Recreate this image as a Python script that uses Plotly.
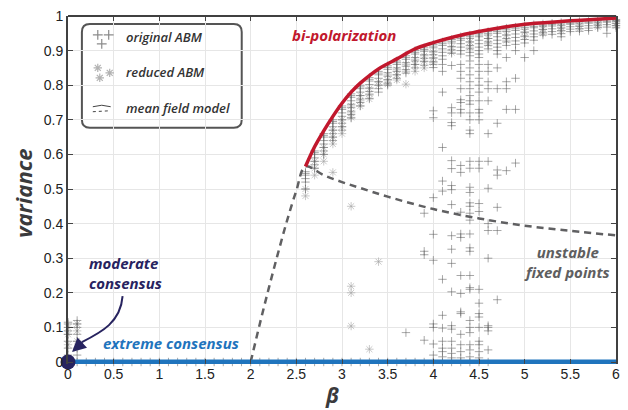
import plotly.graph_objects as go

# ---------------- data ----------------
mf_stable_beta = [2.6, 2.7, 2.8, 2.9, 3.0, 3.1, 3.2, 3.3, 3.4, 3.5, 3.6, 3.8, 4.0, 4.2, 4.4, 4.6, 4.8, 5.0, 5.25, 5.5, 5.75, 6.0]
mf_stable_var = [0.565, 0.622, 0.668, 0.71, 0.748, 0.78, 0.806, 0.828, 0.847, 0.862, 0.876, 0.905, 0.923, 0.938, 0.95, 0.96, 0.969, 0.976, 0.981, 0.986, 0.99, 0.994]

mf_unstable_beta = [2.0, 2.1, 2.2, 2.3, 2.4, 2.5, 2.6, 2.8, 3.0, 3.2, 3.5, 4.0, 4.5, 5.0, 5.5, 6.0]
mf_unstable_var = [0.0, 0.11, 0.215, 0.315, 0.41, 0.495, 0.565, 0.54, 0.52, 0.503, 0.478, 0.442, 0.415, 0.394, 0.379, 0.366]

consensus_beta = [0.0, 6.0]
consensus_var = [0.0, 0.0]

orig_col_beta = [0.0, 0.1, 2.6, 2.7, 2.8, 2.9, 3.0, 3.1, 3.2, 3.3, 3.4, 3.5, 3.6, 3.7, 3.8, 3.9,
                 4.0, 4.1, 4.2, 4.3, 4.4, 4.5, 4.6, 4.7, 4.8, 4.9, 5.0, 5.1, 5.2, 5.3, 5.4, 5.5,
                 5.6, 5.7, 5.8, 5.9, 6.0]
orig_col_var = [
    [0.0, 0.02, 0.04, 0.06, 0.08, 0.09, 0.1, 0.11, 0.115],
    [0.0, 0.02, 0.04, 0.06, 0.08, 0.1, 0.11, 0.12],
    [0.55, 0.545, 0.54, 0.53, 0.52, 0.5],
    [0.61, 0.605, 0.6, 0.59, 0.58, 0.57, 0.56],
    [0.66, 0.655, 0.65, 0.64, 0.63, 0.62, 0.61, 0.6],
    [0.7, 0.695, 0.69, 0.68, 0.67, 0.66, 0.65, 0.64],
    [0.74, 0.735, 0.73, 0.72, 0.71, 0.7, 0.69, 0.68, 0.67],
    [0.775, 0.77, 0.765, 0.755, 0.745, 0.735, 0.725, 0.715, 0.705],
    [0.8, 0.795, 0.79, 0.78, 0.77, 0.76, 0.75, 0.74],
    [0.822, 0.817, 0.812, 0.802, 0.792, 0.782, 0.772, 0.762],
    [0.84, 0.835, 0.83, 0.82, 0.81, 0.8, 0.79, 0.78],
    [0.856, 0.851, 0.846, 0.836, 0.826, 0.816, 0.806, 0.8],
    [0.87, 0.865, 0.86, 0.85, 0.84, 0.83, 0.82],
    [0.885, 0.88, 0.875, 0.865, 0.855, 0.845, 0.835, 0.085],
    [0.9, 0.895, 0.89, 0.88, 0.87, 0.86, 0.85],
    [0.908, 0.903, 0.898, 0.888, 0.878, 0.868, 0.858, 0.43, 0.32, 0.31, 0.063],
    [0.918, 0.913, 0.908, 0.898, 0.888, 0.878, 0.868, 0.86, 0.851, 0.726, 0.706, 0.475, 0.369, 0.294, 0.11, 0.1, 0.052, 0.02],
    [0.925, 0.92, 0.915, 0.905, 0.895, 0.885, 0.875, 0.86, 0.84, 0.78, 0.62, 0.523, 0.494, 0.239, 0.135, 0.098, 0.06, 0.04, 0.03, 0.015],
    [0.932, 0.927, 0.922, 0.912, 0.902, 0.892, 0.857, 0.735, 0.72, 0.692, 0.683, 0.582, 0.559, 0.51, 0.498, 0.455, 0.365, 0.326, 0.285, 0.203, 0.105, 0.095, 0.06, 0.04, 0.025, 0.012],
    [0.94, 0.935, 0.93, 0.92, 0.91, 0.9, 0.89, 0.86, 0.84, 0.82, 0.79, 0.758, 0.75, 0.73, 0.72, 0.568, 0.548, 0.433, 0.37, 0.36, 0.25, 0.198, 0.145, 0.14, 0.08, 0.05, 0.03, 0.012],
    [0.945, 0.94, 0.935, 0.925, 0.915, 0.905, 0.895, 0.885, 0.87, 0.85, 0.83, 0.81, 0.79, 0.77, 0.755, 0.745, 0.72, 0.7, 0.67, 0.66, 0.58, 0.56, 0.505, 0.49, 0.46, 0.45, 0.43, 0.41, 0.37, 0.33, 0.32, 0.25, 0.215, 0.21, 0.12, 0.1, 0.085, 0.05, 0.035, 0.015],
    [0.95, 0.945, 0.94, 0.93, 0.92, 0.91, 0.9, 0.89, 0.88, 0.86, 0.84, 0.82, 0.8, 0.78, 0.755, 0.73, 0.72, 0.7, 0.58, 0.56, 0.458, 0.435, 0.21, 0.17, 0.14, 0.13, 0.1, 0.06, 0.05, 0.03, 0.012],
    [0.955, 0.95, 0.945, 0.935, 0.925, 0.915, 0.905, 0.86, 0.84, 0.81, 0.79, 0.755, 0.66, 0.58, 0.502, 0.4, 0.38, 0.3, 0.105, 0.1, 0.09, 0.035],
    [0.96, 0.955, 0.95, 0.94, 0.93, 0.92, 0.91, 0.9, 0.89, 0.85, 0.79, 0.69, 0.555, 0.54, 0.447, 0.38, 0.18],
    [0.965, 0.96, 0.955, 0.945, 0.935, 0.925, 0.915, 0.88, 0.81, 0.79, 0.73, 0.553],
    [0.968, 0.963, 0.958, 0.948, 0.938, 0.928, 0.918, 0.9, 0.82, 0.73, 0.575],
    [0.972, 0.967, 0.962, 0.952, 0.942, 0.932, 0.922, 0.88],
    [0.975, 0.97, 0.966, 0.957, 0.948, 0.94, 0.93, 0.9],
    [0.977, 0.973, 0.969, 0.961, 0.953, 0.945],
    [0.979, 0.975, 0.971, 0.963, 0.955, 0.947],
    [0.981, 0.977, 0.973, 0.965, 0.957, 0.949, 0.94],
    [0.983, 0.979, 0.976, 0.969, 0.962, 0.955],
    [0.984, 0.98, 0.977, 0.97, 0.963, 0.956],
    [0.986, 0.982, 0.979, 0.972, 0.965, 0.958],
    [0.987, 0.983, 0.98, 0.973, 0.966],
    [0.989, 0.985, 0.982, 0.975, 0.968, 0.95],
    [0.99, 0.987, 0.984, 0.978, 0.972, 0.966],
]

orig_zero_beta = [0.2, 0.3, 0.4, 0.5, 0.6, 0.7, 0.8, 0.9, 1.0, 1.1, 1.2, 1.3, 1.4, 1.5, 1.6, 1.7, 1.8, 1.9,
                  2.0, 2.1, 2.2, 2.3, 2.4, 2.5, 2.6, 2.7, 2.8, 2.9, 3.0, 3.1, 3.2, 3.3, 3.4, 3.5, 3.6,
                  3.7, 3.8, 3.9, 4.0, 4.1, 4.2, 4.3, 4.4, 4.5, 4.6]
orig_zero_var = [0.0] * len(orig_zero_beta)

red_col_beta = [0.0, 0.1, 2.6, 2.7, 2.8, 2.9, 3.0, 3.1, 3.2, 3.3, 3.4, 3.5, 3.6, 3.7, 3.8, 3.9,
                4.0, 4.2, 4.4, 4.6, 4.8, 5.0, 5.2, 5.4, 5.6, 5.8, 6.0]
red_col_var = [
    [0.05, 0.08, 0.1],
    [0.06, 0.09, 0.11],
    [0.5, 0.48],
    [0.58, 0.56, 0.54],
    [0.62, 0.6, 0.58],
    [0.67, 0.65, 0.63, 0.548],
    [0.7, 0.68, 0.66],
    [0.74, 0.72, 0.707, 0.45, 0.219, 0.2, 0.104],
    [0.77, 0.755, 0.74],
    [0.79, 0.775, 0.76, 0.037],
    [0.81, 0.8, 0.29],
    [0.83, 0.815, 0.803],
    [0.845, 0.83, 0.815],
    [0.86, 0.84, 0.803],
    [0.875, 0.86, 0.84],
    [0.885, 0.87, 0.85],
    [0.895, 0.88, 0.865],
    [0.91, 0.895],
    [0.925, 0.91],
    [0.935, 0.92],
    [0.945, 0.93],
    [0.955, 0.94],
    [0.962, 0.95],
    [0.968, 0.958],
    [0.972, 0.963],
    [0.976, 0.968],
    [0.98, 0.972],
]

x_tick_vals = [0, 0.5, 1, 1.5, 2, 2.5, 3, 3.5, 4, 4.5, 5, 5.5, 6]
x_tick_text = ["0", "0.5", "1", "1.5", "2", "2.5", "3", "3.5", "4", "4.5", "5", "5.5", "6"]
y_tick_vals = [0, 0.1, 0.2, 0.3, 0.4, 0.5, 0.6, 0.7, 0.8, 0.9, 1]
y_tick_text = ["0", "0.1", "0.2", "0.3", "0.4", "0.5", "0.6", "0.7", "0.8", "0.9", "1"]

# ---------------- build ----------------
def flatten(betas, cols):
    xs, ys = [], []
    for b, col in zip(betas, cols):
        for v in col:
            xs.append(b)
            ys.append(v)
    return xs, ys

orig_x, orig_y = flatten(orig_col_beta, orig_col_var)
orig_x += orig_zero_beta
orig_y += orig_zero_var
red_x, red_y = flatten(red_col_beta, red_col_var)

ORIG_C = "rgba(95,95,95,0.55)"
RED_C = "rgba(165,165,165,0.6)"
NAVY = "#27235f"
BLUE = "#1f74bd"
CRIMSON = "#c1182d"
DGRAY = "#5e5e60"
FONT = "Open Sans"

fig = go.Figure()

fig.add_trace(go.Scatter(x=red_x, y=red_y, mode="markers", cliponaxis=False,
                         marker=dict(symbol="asterisk-open", size=7, color=RED_C,
                                     line=dict(width=1, color=RED_C)),
                         showlegend=False, hoverinfo="skip"))
fig.add_trace(go.Scatter(x=orig_x, y=orig_y, mode="markers", cliponaxis=False,
                         marker=dict(symbol="cross-thin-open", size=6, color=ORIG_C,
                                     line=dict(width=1, color=ORIG_C)),
                         showlegend=False, hoverinfo="skip"))
fig.add_trace(go.Scatter(x=mf_unstable_beta, y=mf_unstable_var, mode="lines", line_shape="spline",
                         line=dict(color="#606062", width=2.5, dash="7px,5px"),
                         showlegend=False, hoverinfo="skip"))
fig.add_trace(go.Scatter(x=mf_stable_beta, y=mf_stable_var, mode="lines", line_shape="spline",
                         line=dict(color=CRIMSON, width=3.5), showlegend=False, hoverinfo="skip"))
fig.add_trace(go.Scatter(x=consensus_beta, y=consensus_var, mode="lines",
                         line=dict(color=BLUE, width=5), showlegend=False, hoverinfo="skip"))
fig.add_trace(go.Scatter(x=[0], y=[0], mode="markers", cliponaxis=False,
                         marker=dict(size=15, color=NAVY), showlegend=False, hoverinfo="skip"))

# legend icons on pixel-unit overlay axes
fig.add_trace(go.Scatter(x=[98, 109, 102], y=[34, 34, 43], mode="markers", xaxis="x2", yaxis="y2",
                         marker=dict(symbol="cross-thin-open", size=7, color="rgba(110,110,110,0.8)",
                                     line=dict(width=1.2, color="rgba(110,110,110,0.8)")),
                         showlegend=False, hoverinfo="skip"))
fig.add_trace(go.Scatter(x=[98, 110, 100], y=[67, 72, 77], mode="markers", xaxis="x2", yaxis="y2",
                         marker=dict(symbol="asterisk-open", size=7, color="rgba(165,165,165,0.85)",
                                     line=dict(width=1.2, color="rgba(165,165,165,0.85)")),
                         showlegend=False, hoverinfo="skip"))

shapes = [
    dict(type="path", xref="x2", yref="y2",
         path="M 90,23 L 235,23 Q 243,23 243,31 L 243,119 Q 243,127 235,127 L 90,127 Q 82,127 82,119 L 82,31 Q 82,23 90,23 Z",
         line=dict(color="#555555", width=2), fillcolor="white", layer="below"),
    dict(type="path", xref="x2", yref="y2", path="M 93,106 Q 102,103 111,106",
         line=dict(color="#444444", width=1)),
    dict(type="line", xref="x2", yref="y2", x0=93, y0=111, x1=111, y1=110,
         line=dict(color="#444444", width=1, dash="dot")),
    dict(type="line", xref="paper", yref="paper", x0=0, x1=1, y0=1, y1=1,
         line=dict(color="#404040", width=2)),
    dict(type="path", xref="x2", yref="y2", path="M 123,296 C 121,322 102,332 82,342",
         line=dict(color=NAVY, width=2)),
]

LEG_FONT = dict(family=FONT, size=13, color="#333333", weight=600, style="italic")

annotations = [
    dict(x=72, y=352, ax=84, ay=341, xref="x2", yref="y2", axref="x2", ayref="y2",
         text="", showarrow=True, arrowhead=2, arrowsize=1.4, arrowwidth=2, arrowcolor=NAVY),
    dict(x=124, y=36, xref="x2", yref="y2", text="original ABM", showarrow=False,
         xanchor="left", yanchor="middle", font=LEG_FONT),
    dict(x=124, y=71.5, xref="x2", yref="y2", text="reduced ABM", showarrow=False,
         xanchor="left", yanchor="middle", font=LEG_FONT),
    dict(x=124, y=107, xref="x2", yref="y2", text="mean field model", showarrow=False,
         xanchor="left", yanchor="middle", font=LEG_FONT),
    dict(x=292, y=34, xref="x2", yref="y2", text="<b><i>bi-polarization</i></b>", showarrow=False,
         xanchor="left", yanchor="middle", font=dict(family=FONT, size=15, color=CRIMSON)),
    dict(x=101, y=343, xref="x2", yref="y2", text="<b><i>extreme consensus</i></b>", showarrow=False,
         xanchor="left", yanchor="middle", font=dict(family=FONT, size=15, color=BLUE)),
    dict(x=87, y=273, xref="x2", yref="y2", text="<b><i>moderate<br>consensus</i></b>", showarrow=False,
         xanchor="left", yanchor="middle", align="left", font=dict(family=FONT, size=15, color=NAVY)),
    dict(x=571, y=262, xref="x2", yref="y2", text="<b><i>unstable<br>fixed points</i></b>", showarrow=False,
         xanchor="center", yanchor="middle", align="center", font=dict(family=FONT, size=15, color=DGRAY)),
    dict(x=(23 - 68) / 552, y=(364 - 193) / 349, xref="paper", yref="paper",
         text="<b><i>variance</i></b>", showarrow=False, textangle=-90,
         xanchor="center", yanchor="middle", font=dict(family=FONT, size=22, color="#3a3a3c")),
    dict(x=(334 - 68) / 552, y=(364 - 395) / 349, xref="paper", yref="paper",
         text="<b><i>β</i></b>", showarrow=False,
         xanchor="center", yanchor="middle", font=dict(family=FONT, size=21, color="#3a3a3c")),
]

fig.update_layout(
    width=628, height=410,
    margin=dict(l=68, r=8, t=15, b=46),
    paper_bgcolor="white", plot_bgcolor="white",
    font=dict(family="Liberation Sans", size=14, color="#222222"),
    xaxis=dict(range=[0, 6], tickvals=x_tick_vals, ticktext=x_tick_text,
               showgrid=True, gridcolor="#e6e6e6", gridwidth=1, zeroline=False,
               showline=False, ticks="inside", ticklen=5, tickcolor="#444444", mirror="allticks",
               tickfont=dict(family="Liberation Sans", size=14, color="#222222")),
    yaxis=dict(range=[-0.00576, 1], tickvals=y_tick_vals, ticktext=y_tick_text,
               showgrid=True, gridcolor="#e6e6e6", gridwidth=1, zeroline=False,
               showline=True, linecolor="#404040", linewidth=2, mirror="allticks",
               ticks="inside", ticklen=5, tickcolor="#444444",
               tickfont=dict(family="Liberation Sans", size=14, color="#222222")),
    xaxis2=dict(overlaying="x", range=[68, 620], visible=False, fixedrange=True),
    yaxis2=dict(overlaying="y", range=[364, 15], visible=False, fixedrange=True),
    shapes=shapes,
    annotations=annotations,
)

fig.write_html("out.html")
